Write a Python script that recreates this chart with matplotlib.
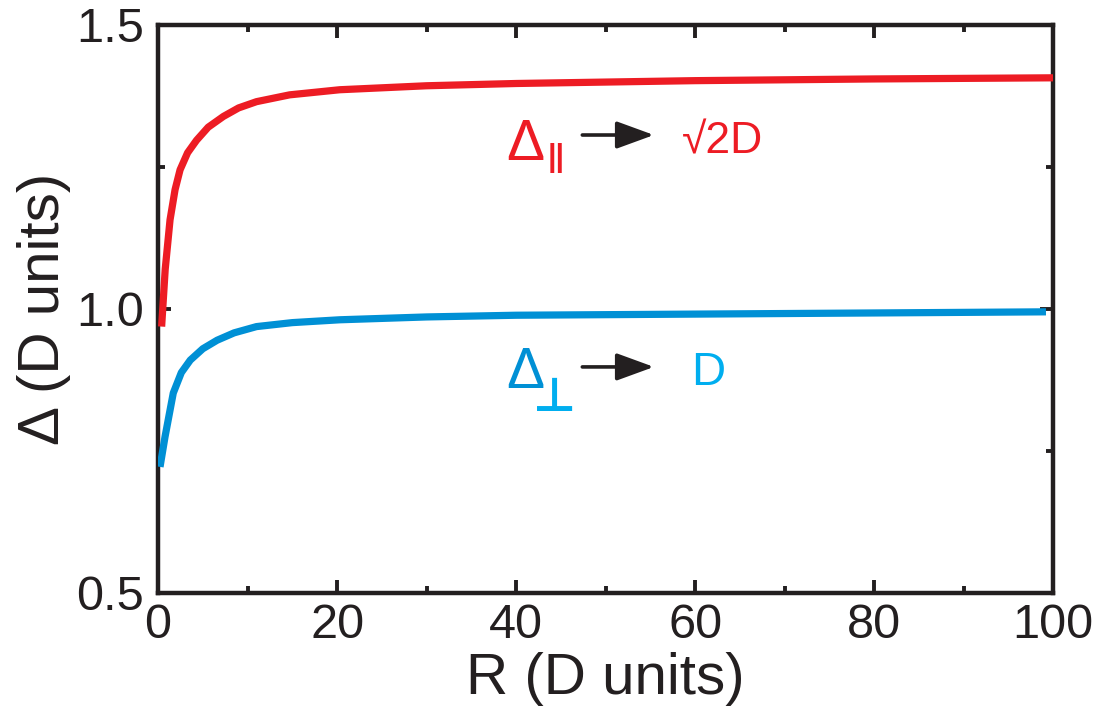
import matplotlib
matplotlib.use('Agg')
import numpy as np
import matplotlib.pyplot as plt
from matplotlib.ticker import MultipleLocator

plt.rcParams['font.family'] = ['Liberation Sans', 'DejaVu Sans']

# values
r_par = [0.4, 0.8, 1.34, 1.9, 2.46, 3.3, 4.3, 5.6, 7.3, 9.0, 11.0, 14.7, 20.3, 30, 40, 60, 80, 100]
d_par = [0.969, 1.07, 1.157, 1.21, 1.245, 1.275, 1.297, 1.32, 1.339, 1.354, 1.365, 1.377, 1.386, 1.393, 1.397, 1.402, 1.405, 1.407]

r_perp = [0.22, 0.78, 1.7, 2.6, 3.6, 5.0, 6.6, 8.5, 11.0, 15.0, 20.3, 30, 40, 60, 80, 99.2]
d_perp = [0.722, 0.775, 0.852, 0.888, 0.910, 0.930, 0.945, 0.958, 0.969, 0.976, 0.981, 0.986, 0.989, 0.991, 0.993, 0.995]

x_ticks = [0, 20, 40, 60, 80, 100]
y_ticks = [0.5, 1.0, 1.5]

red = '#ED1C24'
blue = '#0090D5'
cyan = '#00AEEF'
ink = '#231F20'

fig = plt.figure(figsize=(11.06, 7.2), dpi=100)
ax = fig.add_axes([0.1429, 0.1764, 0.8093, 0.7889])

ax.plot(r_par, d_par, color=red, lw=5.2, solid_capstyle='butt', zorder=3)
ax.plot(r_perp, d_perp, color=blue, lw=5.2, solid_capstyle='butt', zorder=3)

ax.set_xlim(0, 100)
ax.set_ylim(0.5, 1.5)
ax.xaxis.set_minor_locator(MultipleLocator(10))
ax.yaxis.set_minor_locator(MultipleLocator(0.25))
ax.set_xticks(x_ticks)
ax.set_xticklabels([str(t) for t in x_ticks])
ax.set_yticks(y_ticks)
ax.set_yticklabels(['%.1f' % t for t in y_ticks])

for s in ax.spines.values():
    s.set_linewidth(3.2)
    s.set_color(ink)
ax.tick_params(which='both', direction='in', top=True, right=True, color=ink, width=2.8)
ax.tick_params(which='major', length=9.5, labelsize=35, labelcolor=ink)
ax.tick_params(which='minor', length=5)
ax.tick_params(axis='x', which='major', pad=7)
ax.tick_params(axis='y', which='major', pad=10)

ax.set_xlabel('R (D units)', fontsize=42, color=ink, labelpad=3)
ax.set_ylabel('Δ (D units)', fontsize=42, color=ink, labelpad=4)

arrow = dict(arrowstyle='-|>,head_length=1.15,head_width=0.42', color=ink, lw=2.6,
             shrinkA=0, shrinkB=0, mutation_scale=20)

# parallel gap label
ax.text(38.9, 1.262, 'Δ', fontsize=41, color=red, ha='left', va='baseline')
ax.text(43.5, 1.252, '||', fontsize=22, color=red, ha='left', va='baseline', fontweight='bold')
ax.annotate('', xy=(55.4, 1.3063), xytext=(47.4, 1.3063), arrowprops=arrow)
ax.text(58.5, 1.2746, '√2D', fontsize=32, color=red, ha='left', va='baseline')

# perpendicular gap label
ax.text(38.9, 0.861, 'Δ', fontsize=41, color=blue, ha='left', va='baseline')
ax.text(44.3, 0.82, '⊥', fontsize=34, color=cyan, ha='center', va='baseline',
        family='DejaVu Sans', fontweight='bold')
ax.annotate('', xy=(55.4, 0.898), xytext=(47.4, 0.898), arrowprops=arrow)
ax.text(59.6, 0.866, 'D', fontsize=34, color=cyan, ha='left', va='baseline')

fig.savefig('out.png', dpi=100)
